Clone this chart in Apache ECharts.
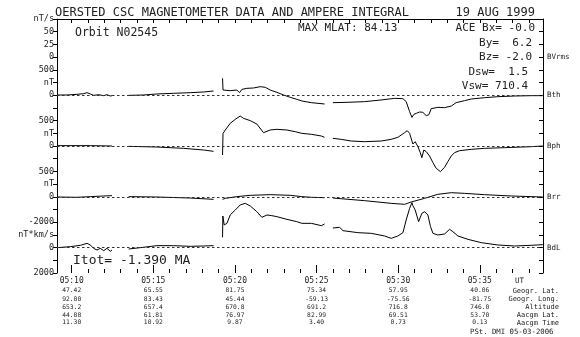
<!DOCTYPE html>
<html>
<head>
<meta charset="utf-8">
<script src="https://cdn.jsdelivr.net/npm/echarts@6/dist/echarts.min.js"></script>
<style>
html,body{margin:0;padding:0;background:#fff;}
#chart{width:580px;height:337px;}
</style>
</head>
<body>
<div id="chart"></div>
<script>
// ---------- data (time in minutes after 05:00 UT) ----------
const bthTime = [9.10, 9.71, 10.32, 10.73, 10.94, 11.14, 11.34, 11.65, 11.96, 12.16, 12.37, 12.47, 12.90, 13.49, 14.41, 15.22, 16.24, 17.26, 18.08, 18.69, 18.95, 19.24, 19.27, 19.71, 20.12, 20.28, 20.43, 20.73, 21.14, 21.55, 21.65, 21.86, 22.16, 22.57, 22.98, 23.39, 23.79, 24.10, 24.68, 25.49, 25.75, 26.00, 26.92, 27.94, 28.96, 29.78, 30.29, 30.49, 30.70, 30.84, 30.96, 31.11, 31.31, 31.51, 31.72, 31.88, 32.02, 32.43, 32.84, 33.25, 33.55, 34.06, 34.47, 35.29, 36.10, 37.13, 38.15, 38.86];
const bthValues = [4, 4, 17, 30, 50, 24, -3, 10, -9, 10, -16, -9, null, -3, 4, 24, 37, 50, 63, 83, null, 332, 102, 89, 102, 50, 115, 135, 142, 168, 188, 155, 102, 56, 4, -42, -81, -114, -147, -173, null, -147, -140, -127, -94, -62, -68, -127, -324, -436, -377, -357, -331, -337, -403, -383, -265, -239, -245, -213, -147, -108, -75, -49, -29, -16, -9, -9];

const bphTime = [9.10, 11.14, 12.47, 12.90, 13.49, 15.22, 16.86, 18.08, 18.69, 18.95, 19.24, 19.27, 19.41, 19.71, 20.02, 20.32, 20.43, 20.53, 20.94, 21.34, 21.75, 22.16, 22.57, 23.18, 23.69, 24.10, 24.68, 25.29, 25.49, 25.75, 26.00, 26.51, 27.13, 27.94, 28.96, 29.57, 29.98, 30.39, 30.55, 30.70, 30.90, 31.04, 31.21, 31.35, 31.45, 31.57, 31.72, 31.92, 32.13, 32.33, 32.59, 32.84, 33.04, 33.25, 33.45, 33.76, 34.47, 35.29, 36.51, 38.15, 38.86];
const bphValues = [7, 7, 0, null, -7, -20, -46, -79, -105, null, -177, 249, 315, 446, 525, 590, 623, 544, 499, 433, 262, 315, 328, 315, 282, 249, 230, 197, 171, null, 151, 131, 98, 85, 98, 131, 171, 262, 302, 249, 39, 85, -13, -131, -230, -79, -112, -197, -328, -440, -505, -420, -308, -197, -131, -92, -66, -46, -33, -13, 0];

const brrTime = [9.10, 10.32, 11.14, 11.96, 12.47, 12.90, 13.49, 15.22, 17.26, 18.69, 18.95, 19.24, 19.41, 20.12, 20.94, 22.16, 23.39, 24.10, 24.68, 25.49, 25.75, 26.00, 27.94, 29.57, 30.39, 30.80, 31.62, 32.43, 33.25, 34.06, 35.29, 36.92, 38.86];
const brrValues = [-4, -10, 3, 16, 22, null, 3, -4, -24, -50, null, -50, -30, 3, 29, 42, 29, 3, -10, -17, null, -24, -76, -129, -148, -102, -30, 49, 81, 68, 42, 16, -4];

const bdlTime = [9.10, 9.92, 10.53, 10.94, 11.14, 11.34, 11.55, 11.75, 11.96, 12.16, 12.37, 12.47, 12.90, 13.49, 14.20, 15.22, 16.24, 17.26, 18.08, 18.69, 18.95, 19.24, 19.26, 19.34, 19.51, 19.71, 20.02, 20.32, 20.63, 20.94, 21.34, 21.65, 21.96, 22.26, 22.57, 23.18, 23.79, 24.10, 24.68, 25.29, 25.49, 25.75, 26.00, 26.41, 26.62, 27.53, 28.35, 29.17, 29.57, 29.98, 30.29, 30.49, 30.70, 30.84, 30.90, 31.04, 31.25, 31.45, 31.62, 31.82, 31.98, 32.13, 32.43, 32.84, 33.15, 33.35, 33.66, 34.27, 35.09, 36.10, 37.13, 38.15, 38.86];
const bdlValues = [5, -74, -179, -336, -205, 58, 189, 58, 242, 58, 294, 189, null, 110, 5, -152, -152, -100, -126, -152, null, -809, -2489, -1780, -1911, -2567, -2961, -3355, -3486, -3276, -2830, -2384, -2567, -2515, -2436, -2226, -2042, -1911, -1911, -1727, -1859, null, -1544, -1596, -1334, -1176, -1123, -914, -730, -914, -1176, -2174, -3092, -3541, -3302, -2961, -2042, -2699, -2830, -2567, -1649, -1123, -992, -1071, -1439, -1255, -914, -651, -389, -205, -126, -179, -231];

// ---------- tick labels ----------
const leftLabels = ["nT/s","50","25","0","500","nT","0","","500","nT","0","","500","nT","0","","-2000","nT*km/s","0","","2000"];
const rightLabels = ["","","","BVrms","","","Bth","","","","Bph","","","","Brr","","","","BdL","",""];
const timeLabels = ["05:10","05:15","05:20","05:25","05:30","05:35"];
const geogLat = ["47.42","65.55","81.75","75.34","57.95","40.06"];
const geogLong = ["92.00","83.43","45.44","-59.13","-75.56","-81.75"];
const altitude = ["653.2","657.4","670.8","691.2","716.8","746.0"];
const aacgmLat = ["44.88","61.81","76.97","82.99","69.51","53.70"];
const aacgmTime = ["11.30","10.92","9.87","3.40","0.73","0.13"];
const rowNames = ["Geogr. Lat.","Geogr. Long.","Altitude","Aacgm Lat.","Aacgm Time"];

// ---------- layout ----------
const MONO = "'DejaVu Sans Mono', 'Liberation Mono', monospace";
const INK = '#222';
const X_MIN = 9.1, X_MAX = 38.87;
const minuteTicks = [];
for (let m = 10; m <= 38; m++) minuteTicks.push(m);
const majorTicks = timeLabels.map(s => parseInt(s.slice(3), 10));
const idxOf = v => majorTicks.indexOf(Math.round(v));
const black = {color: '#000', width: 1};

const baseX = {type: 'value', min: X_MIN, max: X_MAX, gridIndex: 0, splitLine: {show: false}};

const rows = [geogLat, geogLong, altitude, aacgmLat, aacgmTime];
const rowY = [290.7, 299, 307.3, 315, 322.7];
const rowAxes = rows.map((arr, k) => Object.assign({}, baseX, {
  position: 'bottom',
  axisLine: {show: false, onZero: false},
  axisTick: {show: false},
  axisLabel: {customValues: majorTicks, formatter: v => arr[idxOf(v)] || '', margin: rowY[k] - 273,
    verticalAlign: 'middle', fontSize: 6.3, fontFamily: MONO, color: INK}
}));

const xAxis = [
  Object.assign({}, baseX, {position: 'bottom', axisLine: {show: false, onZero: false},
    axisTick: {show: true, inside: true, length: 4, customValues: minuteTicks, lineStyle: black},
    axisLabel: {show: false}}),
  Object.assign({}, baseX, {position: 'bottom', axisLine: {show: false, onZero: false},
    axisTick: {show: true, inside: true, length: 8, customValues: majorTicks, lineStyle: black},
    axisLabel: {customValues: majorTicks, formatter: v => timeLabels[idxOf(v)] || '', margin: 8,
      verticalAlign: 'middle', fontSize: 8, fontFamily: MONO, color: INK}}),
  ...rowAxes,
  Object.assign({}, baseX, {position: 'top', axisLine: {show: true, onZero: false, lineStyle: black},
    axisTick: {show: true, inside: true, length: 4, customValues: minuteTicks, lineStyle: black},
    axisLabel: {show: false}})
];

const hiddenY = {type: 'value', gridIndex: 0, show: false, splitLine: {show: false}, axisLine: {onZero: false}};
const yAxis = [
  {type: 'value', min: 0, max: 20, interval: 1, inverse: true, position: 'left',
    axisLine: {show: true, onZero: false, lineStyle: black},
    axisTick: {show: true, inside: false, length: 4, lineStyle: black},
    axisLabel: {formatter: v => leftLabels[v] || '', fontSize: 8.5, fontFamily: MONO, color: INK, margin: 3,
      showMinLabel: true, showMaxLabel: true},
    splitLine: {show: false}},
  {type: 'value', min: 0, max: 20, interval: 1, inverse: true, position: 'right',
    axisLine: {show: true, onZero: false, lineStyle: black},
    axisTick: {show: true, inside: true, length: 4, lineStyle: black},
    axisLabel: {formatter: v => rightLabels[v] || '', fontSize: 7.5, fontFamily: MONO, color: INK, margin: 4,
      showMinLabel: true, showMaxLabel: true},
    splitLine: {show: false}},
  Object.assign({}, hiddenY, {min: -3500, max: 1500}),
  Object.assign({}, hiddenY, {min: -2500, max: 2500}),
  Object.assign({}, hiddenY, {min: -1500, max: 3500}),
  Object.assign({}, hiddenY, {min: -18000, max: 2000, inverse: true})
];

function trace(name, times, values, yIndex) {
  return {
    name: name, type: 'line', xAxisIndex: 0, yAxisIndex: yIndex,
    data: times.map((t, i) => [t, values[i] === null ? '-' : values[i]]),
    showSymbol: false, symbol: 'none', connectNulls: false,
    lineStyle: {color: '#000', width: 1}, silent: true,
    markLine: {silent: true, symbol: 'none', label: {show: false},
      lineStyle: {color: '#333', width: 1, type: [2.5, 2.5]}, data: [{yAxis: 0}]}
  };
}

function txt(text, x, y, size, align) {
  return {type: 'text', silent: true,
    style: {text: text, x: x, y: y, fill: INK, fontSize: size, fontFamily: MONO,
      textAlign: align, align: align, textVerticalAlign: 'middle', verticalAlign: 'middle'}};
}

const graphic = [
  txt('OERSTED CSC MAGNETOMETER DATA AND AMPERE INTEGRAL', 55, 13, 12, 'left'),
  txt('19 AUG 1999', 535, 13, 12, 'right'),
  txt('Orbit N02545', 75, 33, 11.5, 'left'),
  txt('MAX MLAT: 84.13', 298, 28.5, 11, 'left'),
  txt('ACE Bx= -0.0', 535, 28.5, 11, 'right'),
  txt('By=  6.2', 532, 43, 11, 'right'),
  txt('Bz= -2.0', 532, 57.5, 11, 'right'),
  txt('Dsw=  1.5', 528, 72, 11, 'right'),
  txt('Vsw= 710.4', 528, 86.5, 11, 'right'),
  txt('Itot= -1.390 MA', 73, 261, 13, 'left'),
  txt('UT', 515, 281, 7.5, 'left'),
  ...rowNames.map((n, k) => txt(n, 559, rowY[k], 7, 'right')),
  txt('PSt. DMI 05-03-2006', 470, 332, 7.3, 'left')
];

const chart = echarts.init(document.getElementById('chart'), null, {renderer: 'canvas'});
chart.setOption({
  animation: false,
  backgroundColor: '#fff',
  grid: {left: 57, right: 37, top: 19, bottom: 64, containLabel: false},
  xAxis: xAxis,
  yAxis: yAxis,
  series: [
    trace('Bth', bthTime, bthValues, 2),
    trace('Bph', bphTime, bphValues, 3),
    trace('Brr', brrTime, brrValues, 4),
    trace('BdL', bdlTime, bdlValues, 5)
  ],
  graphic: graphic
});
</script>
</body>
</html>
